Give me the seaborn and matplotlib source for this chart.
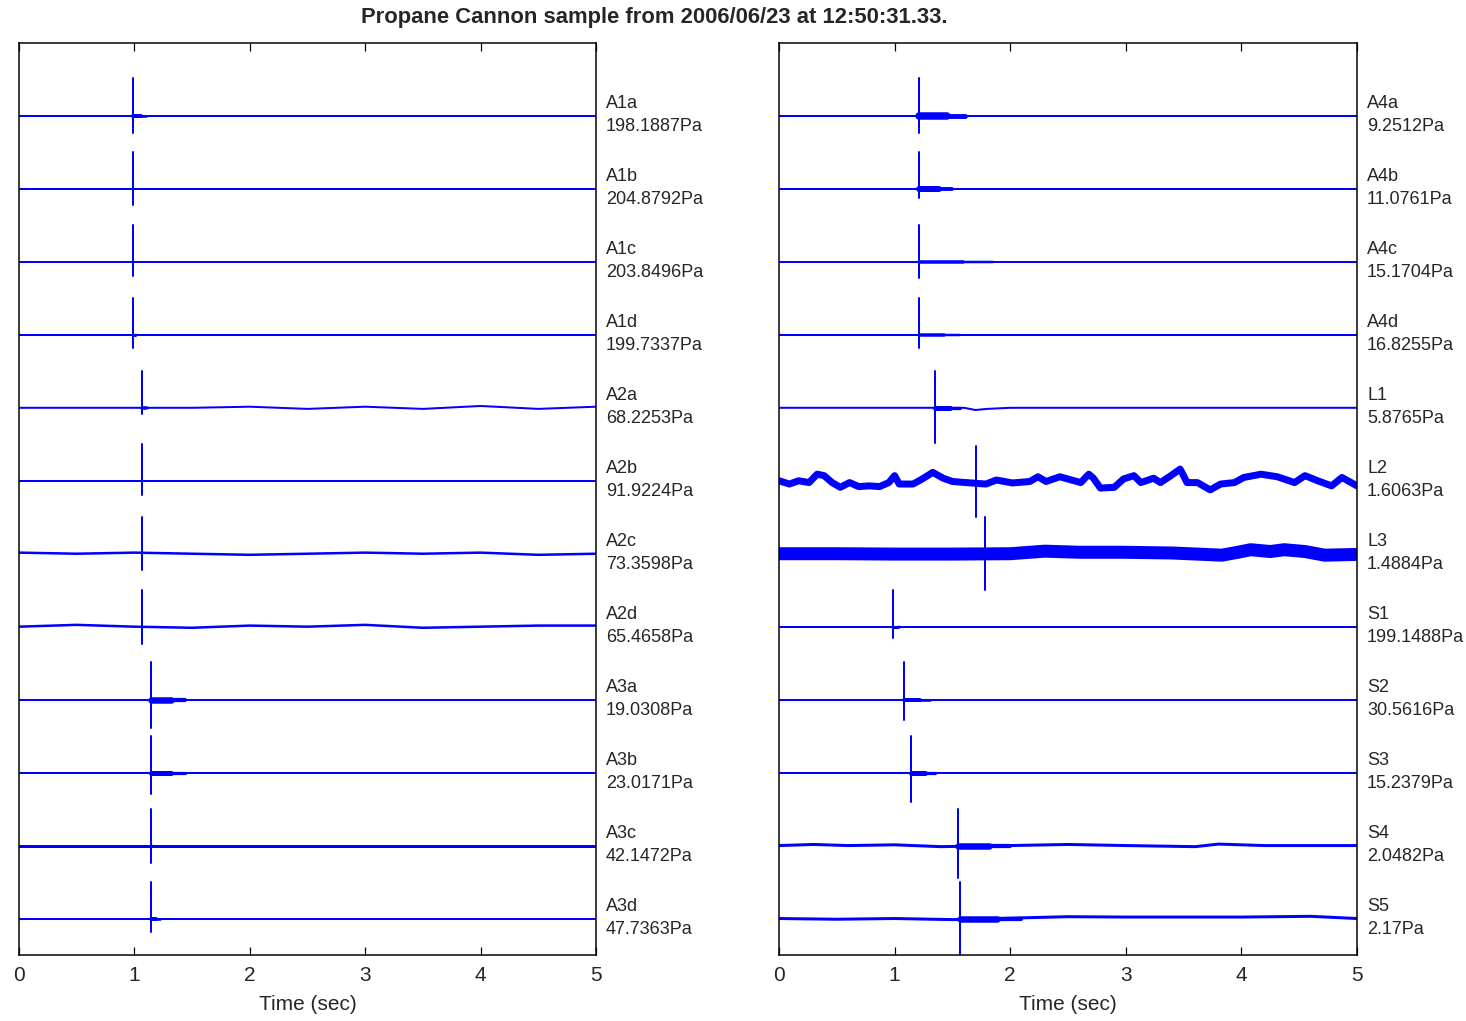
import numpy as np
import pandas as pd
import matplotlib
matplotlib.use("Agg")
import matplotlib.pyplot as plt
import matplotlib.transforms as mtransforms
import seaborn as sns

# ---------------- data ----------------
TITLE = "Propane Cannon sample from 2006/06/23 at 12:50:31.33."
X_TICKS = [0, 1, 2, 3, 4, 5]
X_LABEL = "Time (sec)"
DURATION = 5.0

LEFT_NAMES = ["A1a", "A1b", "A1c", "A1d", "A2a", "A2b", "A2c", "A2d",
              "A3a", "A3b", "A3c", "A3d"]
LEFT_PEAKS = ["198.1887", "204.8792", "203.8496", "199.7337", "68.2253", "91.9224",
              "73.3598", "65.4658", "19.0308", "23.0171", "42.1472", "47.7363"]
LEFT_ARRIVAL = [0.99, 0.99, 0.99, 0.99, 1.07, 1.07, 1.07, 1.07,
                1.14, 1.14, 1.14, 1.14]
LEFT_UP = [1.04, 1.0, 1.0, 1.0, 1.0, 1.0, 1.0, 1.0, 1.04, 1.0, 1.0, 1.0]
LEFT_DOWN = [0.47, 0.44, 0.38, 0.36, 0.16, 0.38, 0.44, 0.47, 0.77, 0.6, 0.47, 0.38]
LEFT_CODA_END = [1.10, 0.99, 0.99, 1.02, 1.12, 1.07, 1.07, 1.07, 1.44, 1.44, 1.16, 1.22]

RIGHT_NAMES = ["A4a", "A4b", "A4c", "A4d", "L1", "L2", "L3", "S1", "S2", "S3", "S4", "S5"]
RIGHT_PEAKS = ["9.2512", "11.0761", "15.1704", "16.8255", "5.8765", "1.6063",
               "1.4884", "199.1488", "30.5616", "15.2379", "2.0482", "2.17"]
RIGHT_ARRIVAL = [1.21, 1.21, 1.21, 1.21, 1.35, 1.70, 1.78, 0.99, 1.08, 1.14, 1.55, 1.57]
RIGHT_UP = [1.04, 1.0, 1.0, 1.0, 1.0, 0.96, 1.0, 1.0, 1.04, 1.0, 1.0, 0.99]
RIGHT_DOWN = [0.47, 0.25, 0.44, 0.36, 0.96, 0.99, 1.0, 0.3, 0.55, 0.8, 0.88, 1.0]
RIGHT_CODA_END = [1.61, 1.50, 1.85, 1.57, 1.57, 1.70, 1.78, 1.05, 1.31, 1.35, 2.0, 2.09]

# baseline wander (normalised units, 1.0 = spike peak)
A2A_T = [0, 1.5, 2.0, 2.5, 3.0, 3.5, 4.0, 4.5, 5.0]
A2A_Y = [0, 0, 0.03, -0.03, 0.03, -0.03, 0.05, -0.03, 0.03]
A2C_T = [0, 0.5, 1.0, 1.5, 2.0, 2.5, 3.0, 3.5, 4.0, 4.5, 5.0]
A2C_Y = [0.03, 0, 0.03, 0, -0.03, 0, 0.03, 0, 0.03, -0.03, 0]
A2D_T = [0, 0.5, 1.0, 1.5, 2.0, 2.5, 3.0, 3.5, 4.0, 4.5, 5.0]
A2D_Y = [0, 0.05, 0, -0.03, 0.03, 0, 0.05, -0.03, 0, 0.03, 0.03]
L1_T = [0, 1.6, 1.7, 1.8, 2.0, 5.0]
L1_Y = [0, 0, -0.06, -0.03, 0, 0]
L2_T = [0, 0.09, 0.17, 0.26, 0.33, 0.39, 0.46, 0.53, 0.61, 0.69,
        0.78, 0.87, 0.95, 1.0, 1.04, 1.16, 1.24, 1.33, 1.42, 1.5,
        1.62, 1.79, 1.88, 2.02, 2.17, 2.24, 2.31, 2.43, 2.52, 2.61,
        2.68, 2.72, 2.78, 2.9, 2.98, 3.07, 3.13, 3.24, 3.3, 3.39,
        3.47, 3.53, 3.62, 3.73, 3.82, 3.94, 4.02, 4.17, 4.31, 4.46,
        4.55, 4.66, 4.78, 4.87, 4.95, 5.0]
L2_Y = [0, -0.09, 0, -0.05, 0.18, 0.14, -0.05, -0.18, -0.05, -0.16,
        -0.14, -0.16, -0.05, 0.14, -0.09, -0.09, 0.05, 0.23, 0.07, -0.02,
        -0.05, -0.09, 0.02, -0.06, -0.02, 0.11, -0.02, 0.11, 0.03, -0.05,
        0.18, 0.07, -0.2, -0.18, 0.05, 0.14, -0.05, 0.07, -0.05, 0.14,
        0.32, -0.05, -0.05, -0.25, -0.09, -0.05, 0.09, 0.18, 0.11, -0.05,
        0.14, 0, -0.14, 0.09, -0.05, -0.14]
L3_T = [0, 0.5, 1.0, 1.5, 2.0, 2.3, 2.6, 2.97, 3.4, 3.83, 3.97, 4.08, 4.25, 4.37,
        4.55, 4.72, 5.0]
L3_Y = [0, 0, -0.01, -0.01, 0, 0.07, 0.04, 0.04, 0.02, -0.04, 0.04, 0.11, 0.06, 0.11,
        0.06, -0.04, -0.02]
S4_T = [0, 0.3, 0.6, 1.0, 1.4, 2.0, 2.5, 3.0, 3.6, 3.8, 4.2, 5.0]
S4_Y = [0, 0.03, 0, 0.02, -0.03, 0, 0.03, 0, -0.03, 0.04, 0, 0]
S5_T = [0, 0.5, 1.0, 1.5, 2.5, 3.0, 4.0, 4.6, 5.0]
S5_Y = [0, -0.02, 0, -0.03, 0.05, 0.04, 0.04, 0.06, 0.0]

WANDER = {"A2a": (A2A_T, A2A_Y), "A2c": (A2C_T, A2C_Y), "A2d": (A2D_T, A2D_Y),
          "L1": (L1_T, L1_Y), "L2": (L2_T, L2_Y), "L3": (L3_T, L3_Y),
          "S4": (S4_T, S4_Y), "S5": (S5_T, S5_Y)}

# ---------------- style ----------------
W, H, DPI = 1466, 1021, 100
PX = 72.0 / DPI
BLUE = "#0000FF"
TRACE_LW = {"A2c": 2.5, "A2d": 2.5, "A3c": 3, "L2": 7, "L3": 13, "S4": 3, "S5": 3}
CODA_LW = {"A1a": 4, "A3a": 6.5, "A3b": 5, "A4a": 7.5, "A4b": 6, "A4c": 3.5, "A4d": 3.5,
           "L1": 5, "S2": 4, "S3": 5, "S4": 6.5, "S5": 6.5, "A3d": 4, "A2a": 3.5}

sns.set_style("white")
plt.rcParams["font.family"] = ["Liberation Sans", "DejaVu Sans"]

fig = plt.figure(figsize=(W / DPI, H / DPI), dpi=DPI)
axL = fig.add_axes([19 / W, 1 - 955 / H, 577 / W, 912 / H])
axR = fig.add_axes([779 / W, 1 - 955 / H, 578 / W, 912 / H])


def draw_panel(ax, names, peaks, arrivals, ups, downs, coda_end):
    n = len(names)
    trans = mtransforms.blended_transform_factory(ax.transAxes, ax.transData)
    for i, name in enumerate(names):
        off = -i
        T, Y = WANDER.get(name, ([0, DURATION], [0, 0]))
        df = pd.DataFrame({"t": T, "y": off + 0.5 * np.asarray(Y, dtype=float)})
        sns.lineplot(data=df, x="t", y="y", ax=ax, color=BLUE,
                     linewidth=TRACE_LW.get(name, 2) * PX, sort=False,
                     estimator=None, legend=False)
        a = arrivals[i]
        e = coda_end[i]
        if e > a:
            w = CODA_LW.get(name, 3)
            mid = a + 0.6 * (e - a)
            dc1 = pd.DataFrame({"t": [a, mid], "y": [off, off]})
            dc2 = pd.DataFrame({"t": [mid, e], "y": [off, off]})
            sns.lineplot(data=dc1, x="t", y="y", ax=ax, color=BLUE,
                         linewidth=w * PX, sort=False, estimator=None, legend=False)
            sns.lineplot(data=dc2, x="t", y="y", ax=ax, color=BLUE,
                         linewidth=max(w * 0.65, 2.5) * PX, sort=False,
                         estimator=None, legend=False)
        ds = pd.DataFrame({"t": [a, a], "y": [off + 0.5 * ups[i], off - 0.5 * downs[i]]})
        sns.lineplot(data=ds, x="t", y="y", ax=ax, color=BLUE, linewidth=2 * PX,
                     sort=False, estimator=None, legend=False)
        ax.text(1.0 + 10 / 577, off + 0.01, f"{name}\n{peaks[i]}Pa", transform=trans,
                ha="left", va="center", fontsize=13, linespacing=1.45)
    ax.set_xlim(0, DURATION)
    ax.set_ylim(-(n - 1) - 0.5, 1.0)
    ax.set_xticks(X_TICKS)
    ax.set_xticklabels([str(t) for t in X_TICKS])
    ax.set_yticks([])
    ax.set_ylabel("")
    ax.set_xlabel(X_LABEL, fontsize=15, labelpad=7)
    ax.tick_params(axis="x", direction="in", top=True, bottom=True,
                   length=8 * PX, width=1.2 * PX, labelsize=15, pad=8,
                   color="black")
    for sp in ax.spines.values():
        sp.set_visible(True)
        sp.set_color("black")
        sp.set_linewidth(1.5 * PX)


draw_panel(axL, LEFT_NAMES, LEFT_PEAKS, LEFT_ARRIVAL, LEFT_UP, LEFT_DOWN, LEFT_CODA_END)
draw_panel(axR, RIGHT_NAMES, RIGHT_PEAKS, RIGHT_ARRIVAL, RIGHT_UP, RIGHT_DOWN, RIGHT_CODA_END)

fig.text(654 / W, 1 - 18 / H, TITLE, ha="center", va="center", fontsize=15.8,
         fontweight="bold", family=["Liberation Sans", "DejaVu Sans"])

fig.savefig("out.png", dpi=DPI)
